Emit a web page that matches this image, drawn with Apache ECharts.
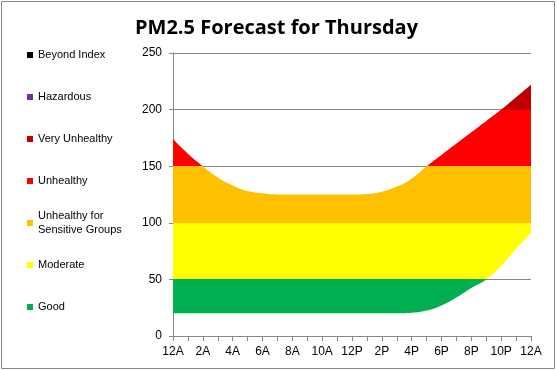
<!DOCTYPE html>
<html>
<head>
<meta charset="utf-8">
<script src="https://cdn.jsdelivr.net/npm/echarts@6/dist/echarts.min.js"></script>
<style>
html,body{margin:0;padding:0;background:#fff;}
#c{width:557px;height:370px;}
</style>
</head>
<body>
<div id="c"></div>
<script>
const hours = ['12A','1A','2A','3A','4A','5A','6A','7A','8A','9A','10A','11A','12P','1P','2P','3P','4P','5P','6P','7P','8P','9P','10P','11P','12A'];
const upper = [174,161,150,140,133,128,126,125,125,125,125,125,125,125.5,127.5,132,139,150,160,170,180,190,200,211,222];
const lower = [20,20,20,20,20,20,20,20,20,20,20,20,20,20,20,20,20.5,22.5,27,34,42.5,50,62,77,91];
const bandNames = ['Good','Moderate','Unhealthy for Sensitive Groups','Unhealthy','Very Unhealthy','Hazardous','Beyond Index'];
const bandLimits = [0,50,100,150,200,300,500,100000];
const bandColors = ['#00B050','#FFFF00','#FFC000','#FF0000','#C00000','#7030A0','#000000'];
const yTicks = [0,50,100,150,200,250];

const FONT = 'Liberation Sans';
const chart = echarts.init(document.getElementById('c'), null, {renderer:'canvas'});

const spread = upper.map((u,i)=>u - lower[i]);
const pieces = bandNames.map((n,i)=>({gte: bandLimits[i], lt: bandLimits[i+1], color: bandColors[i]}));

const legendCenters = {'Beyond Index':55,'Hazardous':97,'Very Unhealthy':139,'Unhealthy':181,'Unhealthy for Sensitive Groups':223,'Moderate':265,'Good':307};
const legends = bandNames.map(n=>{
  const multi = n === 'Unhealthy for Sensitive Groups';
  return {
    data:[n], orient:'vertical', left:27, top: legendCenters[n] - (multi?21:7), padding:0,
    itemWidth:6, itemHeight:6, itemGap:0, icon:'rect', selectedMode:false,
    formatter: nm => multi ? 'Unhealthy for\nSensitive Groups' : nm,
    textStyle:{fontFamily:FONT,fontSize:11,color:'#000',lineHeight:14, padding: multi?[14,0,0,0]:0}
  };
});

const dummySeries = bandNames.map((n,i)=>({
  name:n, type:'line', data:[], itemStyle:{color:bandColors[i]}, lineStyle:{color:bandColors[i]}
}));

chart.setOption({
  animation:false,
  title:{text:'PM2.5 Forecast for Thursday', left:135, top:18, padding:0,
    textStyle:{fontFamily:'Open Sans',fontSize:20,fontWeight:'bold',color:'#000'}},
  legend: legends,
  graphic:[{type:'rect', shape:{x:1.5,y:1.5,width:553,height:367}, style:{fill:null,stroke:'#878787',lineWidth:1}, silent:true}],
  grid:{left:173,right:26,top:53,bottom:34,containLabel:false},
  xAxis:{type:'category', data:hours, boundaryGap:false,
    axisLine:{lineStyle:{color:'#868686',width:1}},
    axisTick:{show:true,interval:0,length:5,lineStyle:{color:'#868686'}},
    axisLabel:{interval:1,margin:10,fontFamily:FONT,fontSize:12,color:'#000'},
    splitLine:{show:false}},
  yAxis:{type:'value', min:yTicks[0], max:yTicks[yTicks.length-1], interval:50,
    axisLine:{show:true,lineStyle:{color:'#868686',width:1}},
    axisTick:{show:true,length:4,lineStyle:{color:'#868686'}},
    axisLabel:{margin:11,fontFamily:FONT,fontSize:12,color:'#000'},
    splitLine:{show:true,lineStyle:{color:'#868686',width:1}}},
  visualMap:{type:'piecewise', show:false, dimension:1, seriesIndex:1, pieces:pieces},
  series:[
    {name:'base', type:'line', stack:'r', data:lower, smooth:0.5, symbol:'none',
      lineStyle:{width:0,opacity:0}, silent:true, z:2},
    {name:'range', type:'line', stack:'r', data:spread, smooth:0.5, symbol:'none',
      lineStyle:{width:0,opacity:0}, areaStyle:{opacity:1}, silent:true, z:2}
  ].concat(dummySeries)
});
</script>
</body>
</html>
